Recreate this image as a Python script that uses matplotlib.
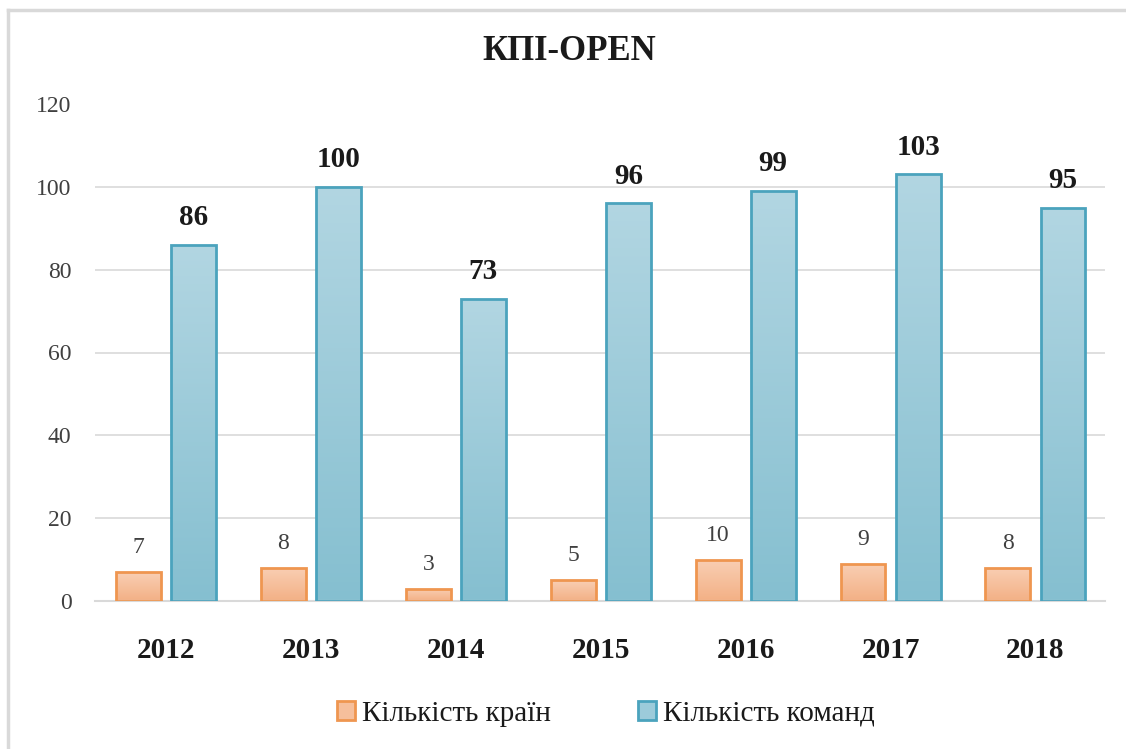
import matplotlib
matplotlib.use('Agg')
import numpy as np
import matplotlib.pyplot as plt
from matplotlib.patches import Patch
from matplotlib.lines import Line2D
from matplotlib.colors import LinearSegmentedColormap

plt.rcParams['font.family'] = ['Liberation Serif', 'DejaVu Serif']

years = ["2012", "2013", "2014", "2015", "2016", "2017", "2018"]
countries = [7, 8, 3, 5, 10, 9, 8]
teams = [86, 100, 73, 96, 99, 103, 95]
title = "КПІ-OPEN"
labels = ["Кількість країн", "Кількість команд"]

fig = plt.figure(figsize=(11.26, 7.49), dpi=100)
ax = fig.add_axes([95 / 1126, 1 - 601 / 749, 1010 / 1126, (601 - 104) / 749])

# outer chart frame (cut off on the right and bottom)
fig.add_artist(Line2D([8 / 1126, 8 / 1126], [0, 1 - 10 / 749], transform=fig.transFigure,
                      color="#d9d9d9", lw=2.5))
fig.add_artist(Line2D([8 / 1126, 1], [1 - 10 / 749, 1 - 10 / 749], transform=fig.transFigure,
                      color="#d9d9d9", lw=2.5))

x = np.arange(len(years))
w = 0.31
off = 0.19

cm_or = LinearSegmentedColormap.from_list("or", ["#f9cfb4", "#f3b085"])
cm_bl = LinearSegmentedColormap.from_list("bl", ["#b2d6e2", "#85bfd0"])
grad = np.linspace(0, 1, 256).reshape(-1, 1)

b1 = ax.bar(x - off, countries, w, facecolor="none", edgecolor="#ef9650", lw=2, zorder=3)
b2 = ax.bar(x + off, teams, w, facecolor="none", edgecolor="#4ba3bd", lw=2, zorder=3)

for bars, cm in [(b1, cm_or), (b2, cm_bl)]:
    for b in bars:
        x0, h = b.get_x(), b.get_height()
        im = ax.imshow(grad, extent=[x0, x0 + b.get_width(), 0, h], origin="upper",
                       aspect="auto", cmap=cm, zorder=2)
        im.set_clip_path(b)

for xi, v in zip(x, countries):
    ax.annotate(str(v), (xi - off, v), xytext=(0, 10), textcoords="offset points",
                ha="center", va="bottom", fontsize=17, color="#404040")
for xi, v in zip(x, teams):
    ax.annotate(str(v), (xi + off, v), xytext=(0, 10), textcoords="offset points",
                ha="center", va="bottom", fontsize=21, fontweight="bold", color="#1a1a1a")

ax.set_xlim(-0.49, 6.48)
ax.set_ylim(0, 120)
ax.set_yticks(range(0, 121, 20))
ax.set_xticks(x)
ax.set_xticklabels(years, fontsize=21, fontweight="bold", color="#1a1a1a")
ax.tick_params(axis="x", length=0, pad=26)
ax.tick_params(axis="y", length=0, pad=17, labelsize=17, labelcolor="#404040")
for yv in range(20, 101, 20):
    ax.axhline(yv, color="#d9d9d9", lw=1.2, zorder=0)
for s in ["top", "right", "left"]:
    ax.spines[s].set_visible(False)
ax.spines["bottom"].set_color("#d9d9d9")
ax.spines["bottom"].set_linewidth(1.5)

fig.text(569 / 1126, 1 - 52 / 749, title, ha="center", va="center",
         fontsize=25, fontweight="bold", color="#1a1a1a")

handles = [Patch(facecolor="#f6bf9c", edgecolor="#ef9650", lw=2),
           Patch(facecolor="#9ccbda", edgecolor="#4ba3bd", lw=2)]
fig.legend(handles, labels, loc="center", bbox_to_anchor=(606 / 1126, 1 - 714 / 749),
           ncol=2, frameon=False, fontsize=21, handlelength=0.6, handleheight=0.6,
           handletextpad=0.25, columnspacing=3.0, labelcolor="#1a1a1a")

fig.savefig("out.png", dpi=100)
